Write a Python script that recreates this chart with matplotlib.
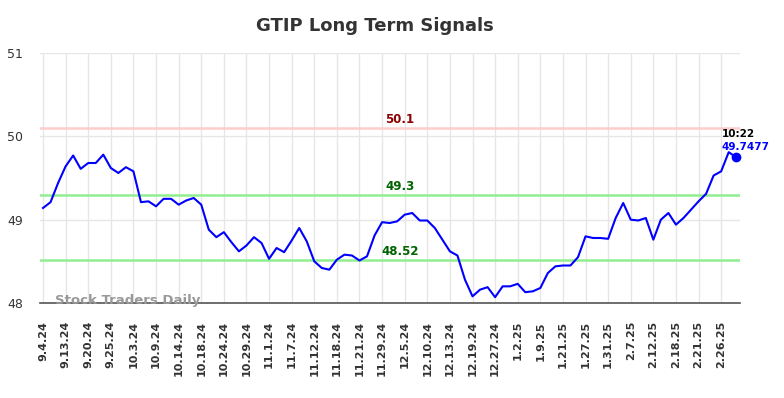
import matplotlib
matplotlib.use("Agg")
import matplotlib.pyplot as plt
import numpy as np

title = "GTIP Long Term Signals"
values = [49.14, 49.21, 49.44, 49.64, 49.77, 49.61, 49.68, 49.68, 49.78, 49.62,
          49.56, 49.63, 49.58, 49.21, 49.22, 49.16, 49.25, 49.25, 49.18, 49.23,
          49.26, 49.18, 48.88, 48.79, 48.85, 48.73, 48.62, 48.69, 48.79, 48.72,
          48.53, 48.66, 48.61, 48.75, 48.90, 48.74, 48.50, 48.42, 48.40, 48.52,
          48.58, 48.57, 48.51, 48.56, 48.81, 48.97, 48.96, 48.98, 49.06, 49.08,
          48.99, 48.99, 48.90, 48.76, 48.62, 48.57, 48.28, 48.08, 48.16, 48.19,
          48.07, 48.20, 48.20, 48.23, 48.13, 48.14, 48.18, 48.36, 48.44, 48.45,
          48.45, 48.55, 48.80, 48.78, 48.78, 48.77, 49.02, 49.20, 49.00, 48.99,
          49.02, 48.76, 49.00, 49.08, 48.94, 49.02, 49.12, 49.22, 49.31, 49.53,
          49.58, 49.81, 49.7477]
tick_labels = ["9.4.24", "9.13.24", "9.20.24", "9.25.24", "10.3.24", "10.9.24",
               "10.14.24", "10.18.24", "10.24.24", "10.29.24", "11.1.24", "11.7.24",
               "11.12.24", "11.18.24", "11.21.24", "11.29.24", "12.5.24", "12.10.24",
               "12.13.24", "12.19.24", "12.27.24", "1.2.25", "1.9.25", "1.21.25",
               "1.27.25", "1.31.25", "2.7.25", "2.12.25", "2.18.25", "2.21.25",
               "2.26.25"]
tick_step = 3
resistance = [50.1]
supports = [49.3, 48.52]
last_time = "10:22"
last_value = 49.7477
watermark = "Stock Traders Daily"

fig = plt.figure(figsize=(7.84, 3.98), dpi=100)
ax = fig.add_axes([40/784, 1-303/398, 700/784, 250/398])

x = np.arange(len(values))
ax.plot(x, values, color="#0000ff", lw=1.5, zorder=4)
ax.plot(x[-1], last_value, "o", color="#0000ff", ms=6, zorder=5, clip_on=False)

for lv in resistance:
    ax.axhline(lv, color="#ffcccc", lw=1.8, zorder=2)
    ax.annotate(f"{lv:g}", xy=(0.514, lv), xycoords=ax.get_yaxis_transform(),
                xytext=(0, 6), textcoords="offset points", ha="center", va="center",
                color="#8b0000", fontsize=8.5, fontweight="bold", zorder=6)
for lv in supports:
    ax.axhline(lv, color="#90ee90", lw=1.8, zorder=2)
    ax.annotate(f"{lv:g}", xy=(0.514, lv), xycoords=ax.get_yaxis_transform(),
                xytext=(0, 6), textcoords="offset points", ha="center", va="center",
                color="#006400", fontsize=8.5, fontweight="bold", zorder=6)

ax.annotate(last_time, xy=(x[-1], last_value), xytext=(-10.5, 16.7),
            textcoords="offset points", ha="left", va="center",
            color="black", fontsize=7.5, fontweight="bold", zorder=6)
ax.annotate(f"{last_value:g}", xy=(x[-1], last_value), xytext=(-10.5, 7.7),
            textcoords="offset points", ha="left", va="center",
            color="#0000ff", fontsize=7.5, fontweight="bold", zorder=6)

ax.text(1.55, 48.03, watermark, ha="left", va="center", color="#999999",
        fontsize=9.5, fontweight="bold", zorder=6)

ax.set_xlim(-0.4, len(values) - 1 + 0.5)
ax.set_ylim(48, 51)
ax.set_yticks([48, 49, 50, 51])
ax.set_xticks(x[::tick_step][:len(tick_labels)])
ax.set_xticklabels(tick_labels, rotation=90, fontweight="bold", fontsize=8, color="#333333")
ax.tick_params(axis="x", length=0, pad=13)
ax.tick_params(axis="y", length=0, pad=12, labelsize=9, labelcolor="#333333")
ax.grid(True, color="#e6e6e6", lw=1, zorder=0)
for s in ["top", "right", "left"]:
    ax.spines[s].set_visible(False)
ax.spines["bottom"].set_color("#555555")
ax.spines["bottom"].set_linewidth(1.2)
ax.set_axisbelow(True)

fig.text(374.5/784, 1-26/398, title, ha="center", va="center",
         fontsize=13, fontweight="bold", color="#333333")

fig.savefig("out.png", dpi=100)
